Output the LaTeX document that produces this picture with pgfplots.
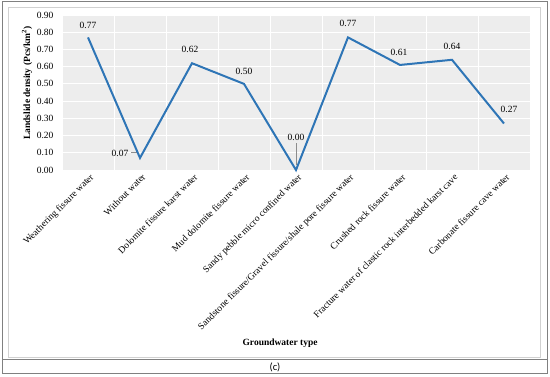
\documentclass[border=0pt]{standalone}
\usepackage{fontspec}
\setmainfont{Liberation Serif}
\newfontfamily\capfont{Carlito}
\usepackage{pgfplots}
\usepackage{pgfplotstable}
\pgfplotsset{compat=1.18}
\definecolor{lineblue}{RGB}{46,117,182}
\pgfplotstableread{
x y dx dy
0 0.77 0 12
1 0.07 -20 5
2 0.62 -2 14
3 0.50 0 12
4 0.00 0 33
5 0.77 0 14
6 0.61 -1 13
7 0.64 0 13
8 0.27 5 14
}\datatable
\begin{document}
\begin{tikzpicture}
\fill[white] (0pt,0pt) rectangle (550pt,-377pt);
\draw[black!18, line width=0.8pt] (8pt,-7pt) rectangle (540pt,-357pt);
\draw[black!50, line width=1pt] (2pt,-2pt) rectangle (547pt,-374pt);
\draw[black!50, line width=1pt] (2pt,-360pt) -- (547pt,-360pt);
\node[font=\capfont\fontsize{10.5}{12}\selectfont] at (275pt,-367pt) {(c)};
\begin{axis}[
  at={(62pt,-170pt)}, anchor=south west,
  scale only axis, width=468pt, height=155pt,
  xmin=-0.5, xmax=8.5, ymin=0, ymax=0.9,
  xtick={0,1,2,3,4,5,6,7,8},
  xticklabels={Weathering fissure water,Without water,Dolomite fissure karst water,Mud dolomite fissure water,Sandy pebble micro confined water,Sandstone fissure/Gravel fissure/shale pore fissure water,Crushed rock fissure water,Fracture water of clastic rock interbedded karst cave,Carbonate fissure cave water},
  minor xtick={-0.5,0.5,1.5,2.5,3.5,4.5,5.5,6.5,7.5,8.5},
  ytick={0,0.1,0.2,0.3,0.4,0.5,0.6,0.7,0.8,0.9},
  yticklabel style={/pgf/number format/fixed, /pgf/number format/fixed zerofill, /pgf/number format/precision=2, xshift=-5pt},
  /pgf/number format/assume math mode=true,
  ticklabel style={font=\fontsize{9.5}{10.5}\selectfont},
  xticklabel style={rotate=45, anchor=north east, inner sep=1pt, yshift=-2pt},
  major tick length=0pt, minor tick length=0pt,
  axis line style={draw=none},
  axis background/.style={fill=black!7},
  ymajorgrids, xminorgrids,
  major grid style={white, line width=0.9pt},
  minor grid style={white, line width=0.9pt},
  ylabel={\textbf{Landslide density (Pcs/km\textsuperscript{2})}},
  ylabel style={at={(axis description cs:-0.0748,0.561)}, anchor=center, font=\fontsize{9.5}{11}\selectfont},
  xlabel={\textbf{Groundwater type}},
  xlabel style={at={(axis description cs:0.466,-1.116)}, anchor=center, font=\fontsize{9.5}{11}\selectfont},
  clip=false,
]
\draw[black!45, line width=0.5pt] (axis cs:4,0.03) -- (axis cs:4,0.155);
\draw[black!45, line width=0.5pt] (axis cs:0.83,0.103) -- (axis cs:0.94,0.103);
\addplot[lineblue, line width=2pt, mark=none,
  nodes near coords={\pgfmathprintnumber[fixed,fixed zerofill,precision=2]{\pgfplotspointmeta}},
  visualization depends on={\thisrow{dx} \as \dx},
  visualization depends on={\thisrow{dy} \as \dy},
  every node near coord/.style={anchor=center, xshift=\dx pt, yshift=\dy pt, text=black, font=\fontsize{9.5}{10.5}\selectfont, /pgf/number format/assume math mode=true},
] table[x=x, y=y] {\datatable};
\end{axis}
\end{tikzpicture}
\end{document}
